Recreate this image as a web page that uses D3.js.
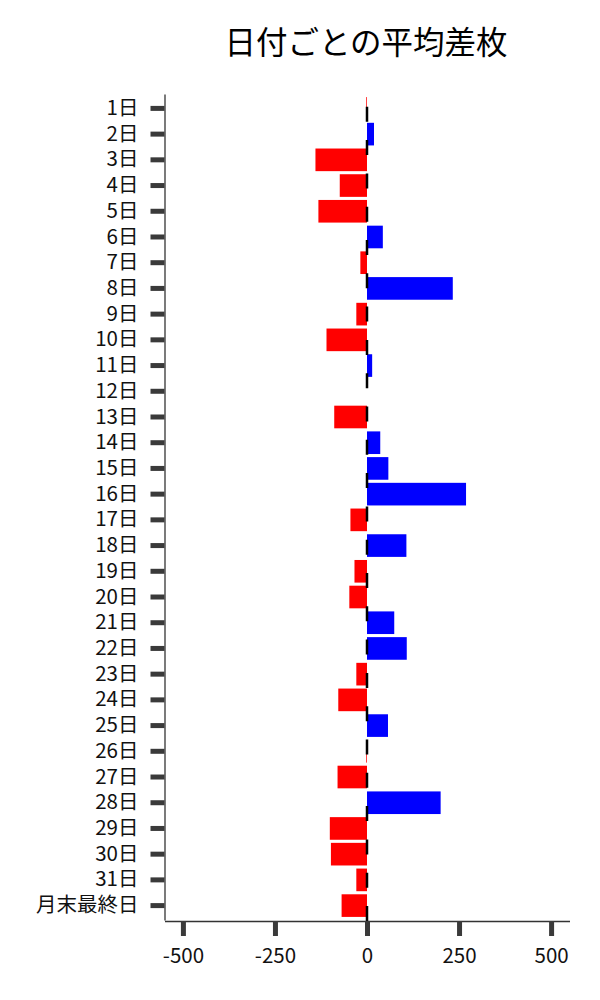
<!DOCTYPE html>
<html>
<head>
<meta charset="utf-8">
<script src="https://cdn.jsdelivr.net/npm/d3@7"></script>
<style>
	body { margin: 0; background: #fff; }
	svg { display: block; font-family: "Noto Sans CJK JP", "Noto Sans", sans-serif; }
</style>
</head>
<body>
<svg width="600" height="1000"></svg>
<script>
// 日付ごとの平均差枚

// data
const days = ['1日', '2日', '3日', '4日', '5日', '6日', '7日', '8日', '9日', '10日',
	'11日', '12日', '13日', '14日', '15日', '16日', '17日', '18日', '19日', '20日',
	'21日', '22日', '23日', '24日', '25日', '26日', '27日', '28日', '29日', '30日',
	'31日', '月末最終日'];
const avgDiff = [-2, 19, -140, -74, -132, 43, -18, 233, -29, -110,
	14, 0, -89, 36, 58, 269, -45, 107, -34, -48,
	74, 108, -29, -78, 57, -2, -80, 200, -101, -98,
	-29, -69];
const xTicks = [-500, -250, 0, 250, 500];

// select svg
var svg = d3.select('svg');

// plot box (window.top is taken, so prefix these)
var plotLeft = 164.5,
	plotRight = 569.5,
	plotTop = 93,
	plotBottom = 921;

// scales
var x = d3.scaleLinear().domain([ -550, 550 ]).range([ plotLeft, plotRight ]);
var y = d3.scaleBand().domain(days).range([ plotTop + 1, plotBottom - 1 ]).padding(0.12);

// title
svg
	.append('text')
	.attr('x', (plotLeft + plotRight) / 2 - 1)
	.attr('y', 54)
	.attr('text-anchor', 'middle')
	.style('font-size', '31.5px')
	.style('fill', '#000')
	.text('日付ごとの平均差枚');

// bars
svg
	.append('g')
	.selectAll('rect')
	.data(days)
	.enter()
	.append('rect')
	.attr('x', function(d, i) {
		return x(Math.min(0, avgDiff[i]));
	})
	.attr('y', function(d) {
		return y(d);
	})
	.attr('width', function(d, i) {
		return Math.abs(x(avgDiff[i]) - x(0));
	})
	.attr('height', y.bandwidth())
	.attr('fill', function(d, i) {
		return avgDiff[i] < 0 ? '#ff0000' : '#0000ff';
	});

// dashed zero line, drawn from the bottom up
svg
	.append('line')
	.attr('x1', x(0))
	.attr('x2', x(0))
	.attr('y1', plotBottom)
	.attr('y2', plotTop)
	.attr('stroke', '#000')
	.attr('stroke-width', 2.5)
	.attr('stroke-dasharray', '15,18.3');

// y axis
var yAxis = svg
	.append('g')
	.attr('transform', 'translate(' + plotLeft + ',0)')
	.call(d3.axisLeft(y).tickSize(14).tickPadding(12).tickSizeOuter(0));

// x axis
var xAxis = svg
	.append('g')
	.attr('transform', 'translate(0,' + plotBottom + ')')
	.call(d3.axisBottom(x).tickValues(xTicks).tickSize(15).tickPadding(12).tickSizeOuter(0));

// axis styling
[ yAxis, xAxis ].forEach(function(a) {
	a.select('.domain').attr('stroke', '#333').attr('stroke-width', 1.3);
	a.selectAll('.tick line').attr('stroke', '#3a3a3a').attr('stroke-width', 5);
	a.selectAll('.tick text').style('font-size', '20.5px').attr('fill', '#111').style('font-family', '"Noto Sans CJK JP", sans-serif');
});

// the minus sign in the reference is a plain hyphen
xAxis.selectAll('.tick text').text(function(d) {
	return String(d);
});
</script>
</body>
</html>
